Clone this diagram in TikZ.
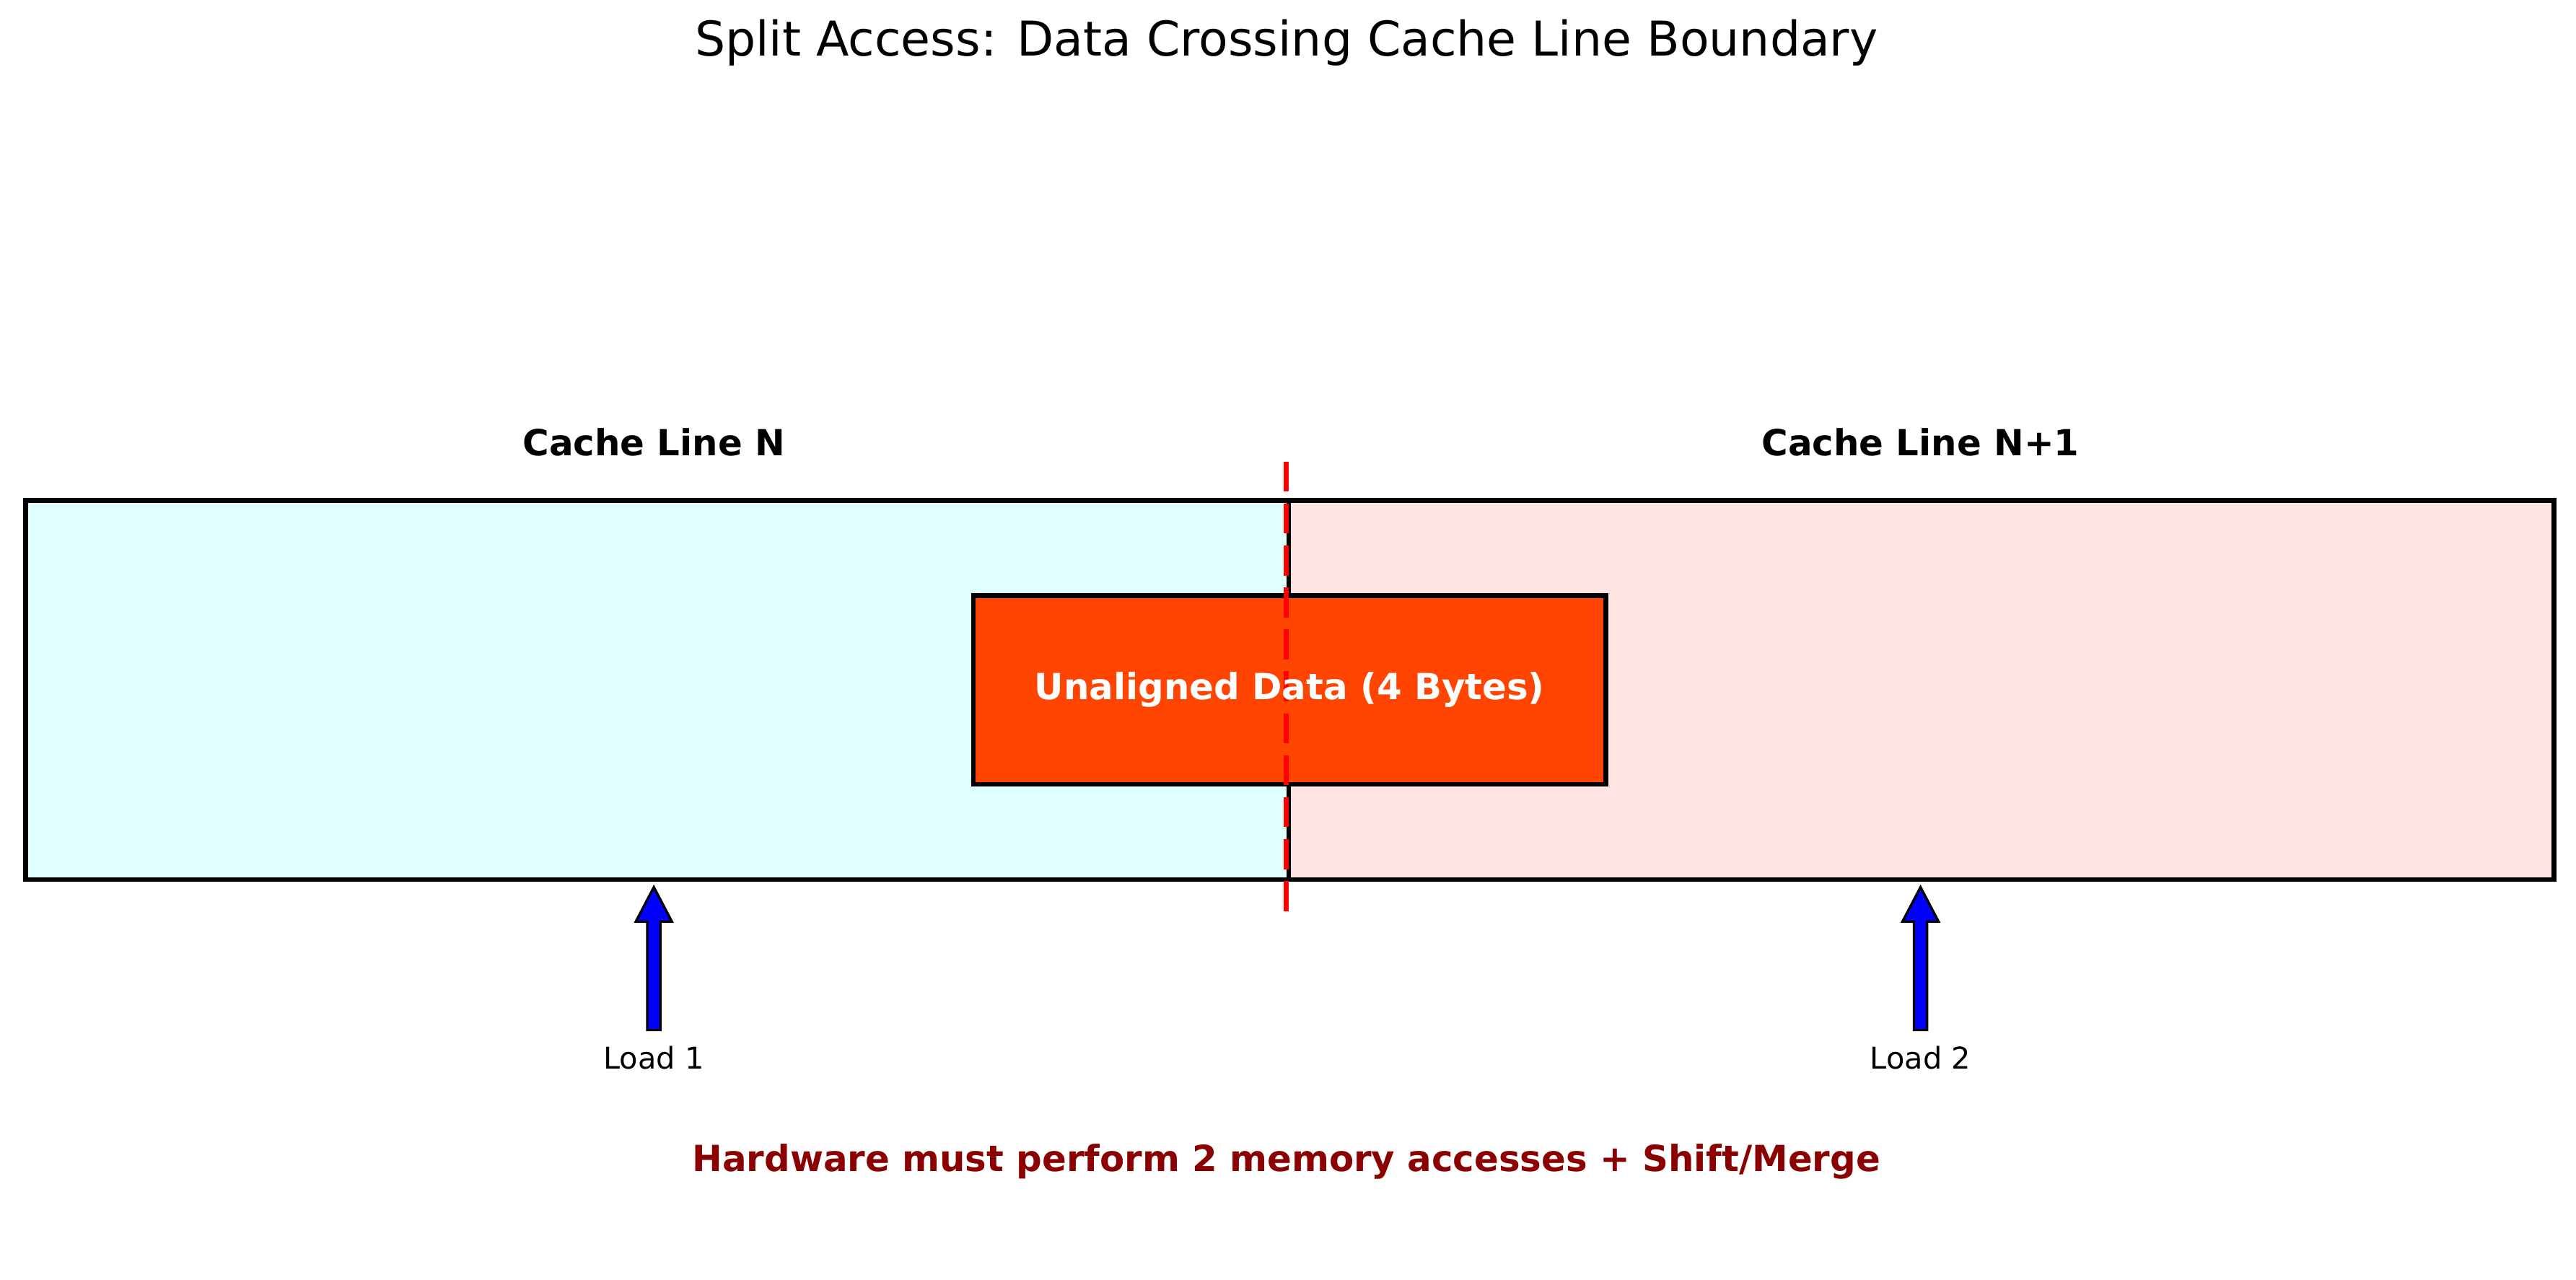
\documentclass[tikz,border=0pt]{standalone}
\usepackage{fontspec}
\setmainfont{DejaVu Sans}
\begin{document}
\begin{tikzpicture}[x=0.01927cm,y=-0.01927cm,
  box/.style={draw=black,line width=1.6pt},
  lbl/.style={font=\bfseries\fontsize{12}{14}\selectfont},
  ld/.style={font=\fontsize{10}{12}\selectfont},
  arr/.style={draw=black,fill=blue,line width=0.8pt}]
\useasboundingbox (0,0) rectangle (1568,779);
\fill[white] (0,0) rectangle (1568,779);
\node[box,fill={rgb,255:red,224;green,255;blue,255},minimum width=769*0.01927cm,minimum height=231*0.01927cm,inner sep=0pt,anchor=north west] (L) at (14,303) {};
\node[box,fill={rgb,255:red,255;green,228;blue,225},minimum width=770*0.01927cm,minimum height=231*0.01927cm,inner sep=0pt,anchor=north west] (R) at (783,303) {};
\node[box,fill={rgb,255:red,255;green,69;blue,0},minimum width=385*0.01927cm,minimum height=115*0.01927cm,inner sep=0pt,anchor=north west,text=white,font=\bfseries\fontsize{12}{14}\selectfont] (D) at (591,361) {};
\coordinate (t) at (783,281);
\coordinate (b) at (783,557);
\draw[red,line width=1.6pt,dash pattern=on 10pt off 4pt] (t) -- (b);
\node[text=white,font=\bfseries\fontsize{12}{14}\selectfont] (DT) at (D.center) {Unaligned Data (4 Bytes)};
\node[lbl] (LN) at (398,269) {Cache Line N};
\node[lbl] (RN) at (1169,269) {Cache Line N+1};
\foreach \x/\n in {398/1,1169/2}{
  \draw[arr] (\x-4,627) -- (\x-4,561) -- (\x-11,561) -- (\x,540) -- (\x+11,561) -- (\x+4,561) -- (\x+4,627) -- cycle;
  \node[ld] (load\n) at (\x,644) {Load \n};
}
\node[font=\bfseries\fontsize{12}{14}\selectfont,text={rgb,255:red,139;green,0;blue,0}] (bot) at (783,707) {Hardware must perform 2 memory accesses + Shift/Merge};
\node[font=\fontsize{16}{19}\selectfont] (title) at (783,26) {Split Access: Data Crossing Cache Line Boundary};
\end{tikzpicture}
\end{document}
